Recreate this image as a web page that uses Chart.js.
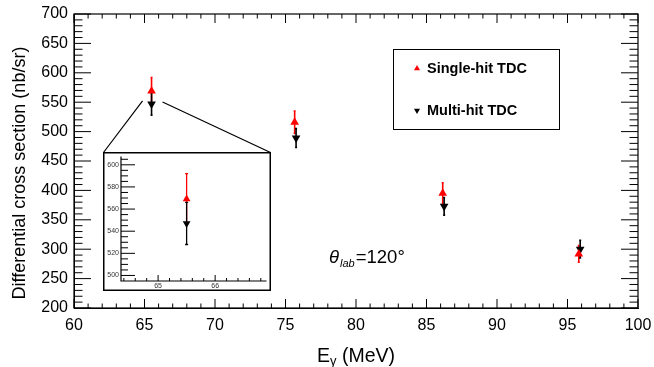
<!DOCTYPE html>
<html>
<head>
<meta charset="utf-8">
<script src="https://cdn.jsdelivr.net/npm/chart.js@4.4.1/dist/chart.umd.min.js"></script>
<style>
  html, body { margin: 0; padding: 0; background: #fff; }
  #wrap { position: relative; width: 654px; height: 367px; }
  #main { position: absolute; left: 0; top: 0; }
  #zoomBox { position: absolute; left: 103px; top: 152px; }
</style>
</head>
<body>
<div id="wrap">
  <canvas id="main" width="654" height="367"></canvas>
  <canvas id="zoomBox" width="168" height="139"></canvas>
</div>
<script>
// Photon energy (MeV), cross sections (nb/sr) and their uncertainties
const xSingle = [65.5, 75.65, 86.15, 95.8];
const ySingle = [569, 516, 395, 292];
const errSingle = [23, 19, 18, 14];

const xMulti = [65.5, 75.75, 86.25, 95.9];
const yMulti = [547, 489, 373, 300];
const errMulti = [19, 16, 15, 15];

const seriesNames = ['Single-hit TDC', 'Multi-hit TDC'];
const xTitle = ['E', 'γ', ' (MeV)'];
const yTitle = 'Differential cross section (nb/sr)';
const angleText = ['θ', 'lab', '=120°'];

const insetYTicks = [500, 520, 540, 560, 580, 600];
const insetXTicks = [65, 66];

const FONT = '"Liberation Sans", Arial, Helvetica, sans-serif';
const RED = '#ff0000';
const BLACK = '#000000';

function points(xs, ys) { return xs.map((x, i) => ({ x: x, y: ys[i] })); }

function makeDatasets(r) {
  return [
    { label: seriesNames[0], data: points(xSingle, ySingle), errs: errSingle,
      pointStyle: 'triangle', rotation: 0, pointRadius: r, pointHoverRadius: r,
      backgroundColor: RED, borderColor: RED, borderWidth: 0, showLine: false },
    { label: seriesNames[1], data: points(xMulti, yMulti), errs: errMulti,
      pointStyle: 'triangle', rotation: 180, pointRadius: r, pointHoverRadius: r,
      backgroundColor: BLACK, borderColor: BLACK, borderWidth: 0, showLine: false }
  ];
}

// vertical error bars, drawn under the markers
const errorBars = {
  id: 'errorBars',
  beforeDatasetsDraw(chart, args, opts) {
    const ctx = chart.ctx, ys = chart.scales.y;
    const area = chart.chartArea;
    ctx.save();
    ctx.beginPath();
    ctx.rect(area.left, area.top, area.right - area.left, area.bottom - area.top);
    ctx.clip();
    chart.data.datasets.forEach((ds, di) => {
      const meta = chart.getDatasetMeta(di);
      ctx.strokeStyle = ds.borderColor;
      ctx.lineWidth = opts.width || 1.5;
      meta.data.forEach((pt, i) => {
        const v = ds.data[i].y, e = ds.errs[i];
        const yTop = ys.getPixelForValue(v + e);
        const yBot = ys.getPixelForValue(v - e);
        const x = pt.x;
        ctx.beginPath();
        ctx.moveTo(x, yTop); ctx.lineTo(x, yBot);
        const c = opts.cap || 1;
        ctx.moveTo(x - c, yTop); ctx.lineTo(x + c, yTop);
        ctx.moveTo(x - c, yBot); ctx.lineTo(x + c, yBot);
        ctx.stroke();
      });
    });
    ctx.restore();
  }
};

// inward tick marks on a frame
function drawTicks(ctx, scale, values, len, side, area) {
  ctx.beginPath();
  values.forEach(v => {
    const p = scale.getPixelForValue(v);
    if (side === 'bottom') { ctx.moveTo(p, area.bottom); ctx.lineTo(p, area.bottom - len(v)); }
    if (side === 'top') { ctx.moveTo(p, area.top); ctx.lineTo(p, area.top + len(v)); }
    if (side === 'left') { ctx.moveTo(area.left, p); ctx.lineTo(area.left + len(v), p); }
    if (side === 'right') { ctx.moveTo(area.right, p); ctx.lineTo(area.right - len(v), p); }
  });
  ctx.stroke();
}
function range(a, b, step) {
  const out = [];
  const n = Math.round((b - a) / step);
  for (let i = 0; i <= n; i++) out.push(+(a + i * step).toFixed(6));
  return out;
}

const mainFrame = {
  id: 'mainFrame',
  afterDraw(chart) {
    const ctx = chart.ctx, a = chart.chartArea;
    const xs = chart.scales.x, ys = chart.scales.y;
    ctx.save();
    ctx.strokeStyle = BLACK;
    ctx.lineWidth = 1.2;
    ctx.strokeRect(a.left, a.top, a.right - a.left, a.bottom - a.top);
    ctx.lineWidth = 1;
    const xv = range(60, 100, 1), yv = range(200, 700, 10);
    const xl = v => (Math.abs(v % 5) < 1e-6 ? 9 : 4.5);
    const yl = v => (Math.abs(v % 50) < 1e-6 ? 17 : 8.5);
    drawTicks(ctx, xs, xv, xl, 'bottom', a);
    drawTicks(ctx, xs, xv, xl, 'top', a);
    drawTicks(ctx, ys, yv, yl, 'left', a);
    drawTicks(ctx, ys, yv, yl, 'right', a);

    // axis titles
    ctx.fillStyle = BLACK;
    ctx.textBaseline = 'alphabetic';
    ctx.textAlign = 'left';
    ctx.font = '19.5px ' + FONT;
    const w0 = ctx.measureText(xTitle[0]).width;
    ctx.font = '13px ' + FONT;
    const w1 = ctx.measureText(xTitle[1]).width;
    ctx.font = '19.5px ' + FONT;
    const w2 = ctx.measureText(xTitle[2]).width;
    const x0 = (a.left + a.right) / 2 - (w0 + w1 + w2) / 2;
    const by = 362;
    ctx.fillText(xTitle[0], x0, by);
    ctx.font = '13px ' + FONT;
    ctx.fillText(xTitle[1], x0 + w0, by + 3);
    ctx.font = '19.5px ' + FONT;
    ctx.fillText(xTitle[2], x0 + w0 + w1, by);

    ctx.save();
    ctx.translate(25, (a.top + a.bottom) / 2 + 12);
    ctx.rotate(-Math.PI / 2);
    ctx.textAlign = 'center';
    ctx.font = '18px ' + FONT;
    ctx.fillText(yTitle, 0, 0);
    ctx.restore();

    // angle annotation
    let tx = 329;
    const ty = 263;
    ctx.textAlign = 'left';
    ctx.font = 'italic 18.5px ' + FONT;
    ctx.fillText(angleText[0], tx, ty);
    tx += ctx.measureText(angleText[0]).width;
    ctx.font = 'italic 11px ' + FONT;
    ctx.fillText(angleText[1], tx + 1, ty + 4);
    tx += ctx.measureText(angleText[1]).width + 2;
    ctx.font = '18.5px ' + FONT;
    ctx.fillText(angleText[2], tx, ty);

    // legend
    ctx.lineWidth = 1;
    ctx.strokeRect(393.5, 49.5, 166, 80);
    ctx.font = 'bold 14.5px ' + FONT;
    ctx.textBaseline = 'middle';
    const legendRows = [[RED, 0, 68.5], [BLACK, 180, 110.5]];
    legendRows.forEach((row, i) => {
      ctx.fillStyle = row[0];
      ctx.strokeStyle = row[0];
      Chart.helpers.drawPoint(ctx, { pointStyle: 'triangle', rotation: row[1], radius: 3.5, borderWidth: 0 }, 417, row[2]);
      ctx.fillStyle = BLACK;
      ctx.fillText(seriesNames[i], 427, row[2]);
    });

    // guide lines from the first point to the magnified view
    const px = xs.getPixelForValue(xMulti[0]);
    const py = ys.getPixelForValue(yMulti[0]);
    ctx.strokeStyle = BLACK;
    ctx.lineWidth = 1.2;
    ctx.beginPath();
    ctx.moveTo(px - 9, py - 3); ctx.lineTo(103.5, 152.5);
    ctx.moveTo(px + 11, py - 2); ctx.lineTo(270.5, 152.5);
    ctx.stroke();
    ctx.restore();
  }
};

new Chart(document.getElementById('main'), {
  type: 'scatter',
  data: { datasets: makeDatasets(5) },
  plugins: [errorBars, mainFrame],
  options: {
    responsive: false,
    animation: false,
    events: [],
    layout: { padding: { left: 0, top: 14, right: 16, bottom: 0 } },
    plugins: {
      legend: { display: false },
      tooltip: { enabled: false },
      errorBars: { width: 1.6, cap: 1 }
    },
    scales: {
      x: {
        type: 'linear', min: 60, max: 100,
        afterFit(s) { s.height = 59; s.paddingLeft = 0; s.paddingRight = 0; },
        grid: { display: false, drawTicks: false },
        border: { display: true, color: BLACK, width: 1 },
        ticks: { stepSize: 5, padding: 8, color: BLACK, font: { family: FONT, size: 16 }, maxRotation: 0 }
      },
      y: {
        type: 'linear', min: 200, max: 700,
        afterFit(s) { s.width = 74; s.paddingTop = 0; s.paddingBottom = 0; },
        grid: { display: false, drawTicks: false },
        border: { display: true, color: BLACK, width: 1 },
        ticks: { stepSize: 50, padding: 6, color: BLACK, font: { family: FONT, size: 16 } }
      }
    }
  }
});

// magnified view around the first energy point
const insetFrame = {
  id: 'insetFrame',
  beforeDraw(chart) {
    const ctx = chart.ctx;
    ctx.save();
    ctx.fillStyle = '#ffffff';
    ctx.fillRect(0, 0, chart.width, chart.height);
    ctx.restore();
  },
  afterDraw(chart) {
    const ctx = chart.ctx, a = chart.chartArea;
    const xs = chart.scales.x, ys = chart.scales.y;
    ctx.save();
    ctx.strokeStyle = BLACK;
    ctx.lineWidth = 1.2;
    ctx.beginPath();
    ctx.moveTo(a.left, a.top); ctx.lineTo(a.left, a.bottom); ctx.lineTo(a.right, a.bottom);
    ctx.stroke();
    ctx.lineWidth = 1;
    const yv = range(500, 605, 5);
    const xv = range(64.4, 66.8, 0.2);
    drawTicks(ctx, ys, yv, v => (Math.abs(v % 20) < 1e-6 ? 14 : 7), 'left', a);
    drawTicks(ctx, xs, xv, v => (Math.abs(v - Math.round(v)) < 1e-6 ? 6 : 3), 'bottom', a);
    ctx.lineWidth = 1.5;
    ctx.strokeRect(0.75, 0.75, chart.width - 1.5, chart.height - 1.5);
    ctx.restore();
  }
};

new Chart(document.getElementById('zoomBox'), {
  type: 'scatter',
  data: { datasets: makeDatasets(4.5) },
  plugins: [insetFrame, errorBars],
  options: {
    responsive: false,
    animation: false,
    events: [],
    layout: { padding: { left: 0, top: 1, right: 2, bottom: 0 } },
    plugins: {
      legend: { display: false },
      tooltip: { enabled: false },
      errorBars: { width: 1.3, cap: 1.5 }
    },
    scales: {
      x: {
        type: 'linear', min: 64.35, max: 66.9,
        afterBuildTicks(s) { s.ticks = insetXTicks.map(v => ({ value: v })); },
        afterFit(s) { s.height = 10; s.paddingLeft = 0; s.paddingRight = 0; },
        grid: { display: false, drawTicks: false },
        border: { display: false },
        ticks: { padding: 1, color: '#333', font: { family: FONT, size: 7 }, maxRotation: 0, autoSkip: false }
      },
      y: {
        type: 'linear', min: 495, max: 607.5,
        afterBuildTicks(s) { s.ticks = insetYTicks.map(v => ({ value: v })); },
        afterFit(s) { s.width = 18; s.paddingTop = 0; s.paddingBottom = 0; },
        grid: { display: false, drawTicks: false },
        border: { display: false },
        ticks: { padding: 2, color: '#333', font: { family: FONT, size: 7 }, autoSkip: false }
      }
    }
  }
});
</script>
</body>
</html>
